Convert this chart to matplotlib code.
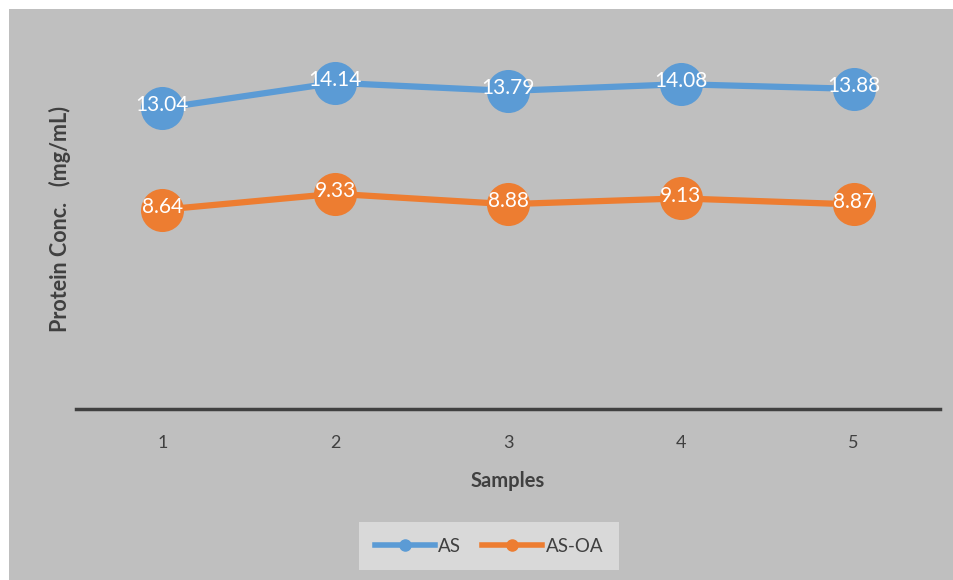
import matplotlib.pyplot as plt
from matplotlib.lines import Line2D
from matplotlib.patches import Rectangle

# Protein concentration per sample
samples = [1, 2, 3, 4, 5]
as_conc = [13.04, 14.14, 13.79, 14.08, 13.88]
as_oa_conc = [8.64, 9.33, 8.88, 9.13, 8.87]

BLUE = "#5B9BD5"
ORANGE = "#ED7D31"
BG = "#BFBFBF"
TEXT = "#404040"
FONT = ["Lato", "DejaVu Sans"]

W, H = 954, 580
fig = plt.figure(figsize=(W / 100, H / 100), dpi=100, facecolor="white")

# grey chart area with a thin white margin on top/left
fig.patches.append(Rectangle((9 / W, 0), 1 - 9 / W, 1 - 9 / H,
                             transform=fig.transFigure, facecolor=BG,
                             edgecolor="none", zorder=-10))

ax = fig.add_axes([76 / W, (H - 409) / H, (940 - 76) / W, (409 - 33) / H])
ax.patch.set_visible(False)

for vals, color, name in [(as_conc, BLUE, "AS"), (as_oa_conc, ORANGE, "AS-OA")]:
    ax.plot(samples, vals, color=color, linewidth=4.5, marker="o",
            markersize=31, markeredgewidth=0, solid_capstyle="round",
            label=name, zorder=3)
    for x, v in zip(samples, vals):
        ax.text(x, v + 0.12, f"{v:.2f}", color="white", ha="center",
                va="center", fontsize=15, family=FONT, zorder=4)

ax.set_xlim(0.5, 5.5)
ax.set_ylim(0, 16.3)
ax.set_yticks([])
ax.set_xticks(samples)
ax.set_xticklabels([str(s) for s in samples], family=FONT, fontsize=13,
                   color=TEXT)
ax.tick_params(axis="x", length=0, pad=19)

for side in ["top", "right", "left"]:
    ax.spines[side].set_visible(False)
ax.spines["bottom"].set_color(TEXT)
ax.spines["bottom"].set_linewidth(2.5)

ax.set_xlabel("Samples", family=FONT, fontsize=14.5, fontweight="bold",
              color=TEXT, labelpad=14)
fig.text(60 / W, 1 - 219 / H, "Protein Conc.   (mg/mL)", rotation=90,
         ha="center", va="center", family=FONT, fontsize=15.5,
         fontweight="bold", color=TEXT)

handles = [Line2D([], [], color=BLUE, linewidth=4, marker="o", markersize=8),
           Line2D([], [], color=ORANGE, linewidth=4, marker="o", markersize=8)]
leg = fig.legend(handles, ["AS", "AS-OA"], loc="center",
                 bbox_to_anchor=(489 / W, 1 - 546 / H), ncol=2,
                 frameon=True, fancybox=False, facecolor="#D9D9D9",
                 edgecolor="none", framealpha=1, handlelength=3.2,
                 handletextpad=0.2, columnspacing=1.1, borderpad=0.85,
                 prop={"family": FONT, "size": 13.5})
for t in leg.get_texts():
    t.set_color(TEXT)

fig.savefig("out.png", dpi=100, facecolor=fig.get_facecolor())
